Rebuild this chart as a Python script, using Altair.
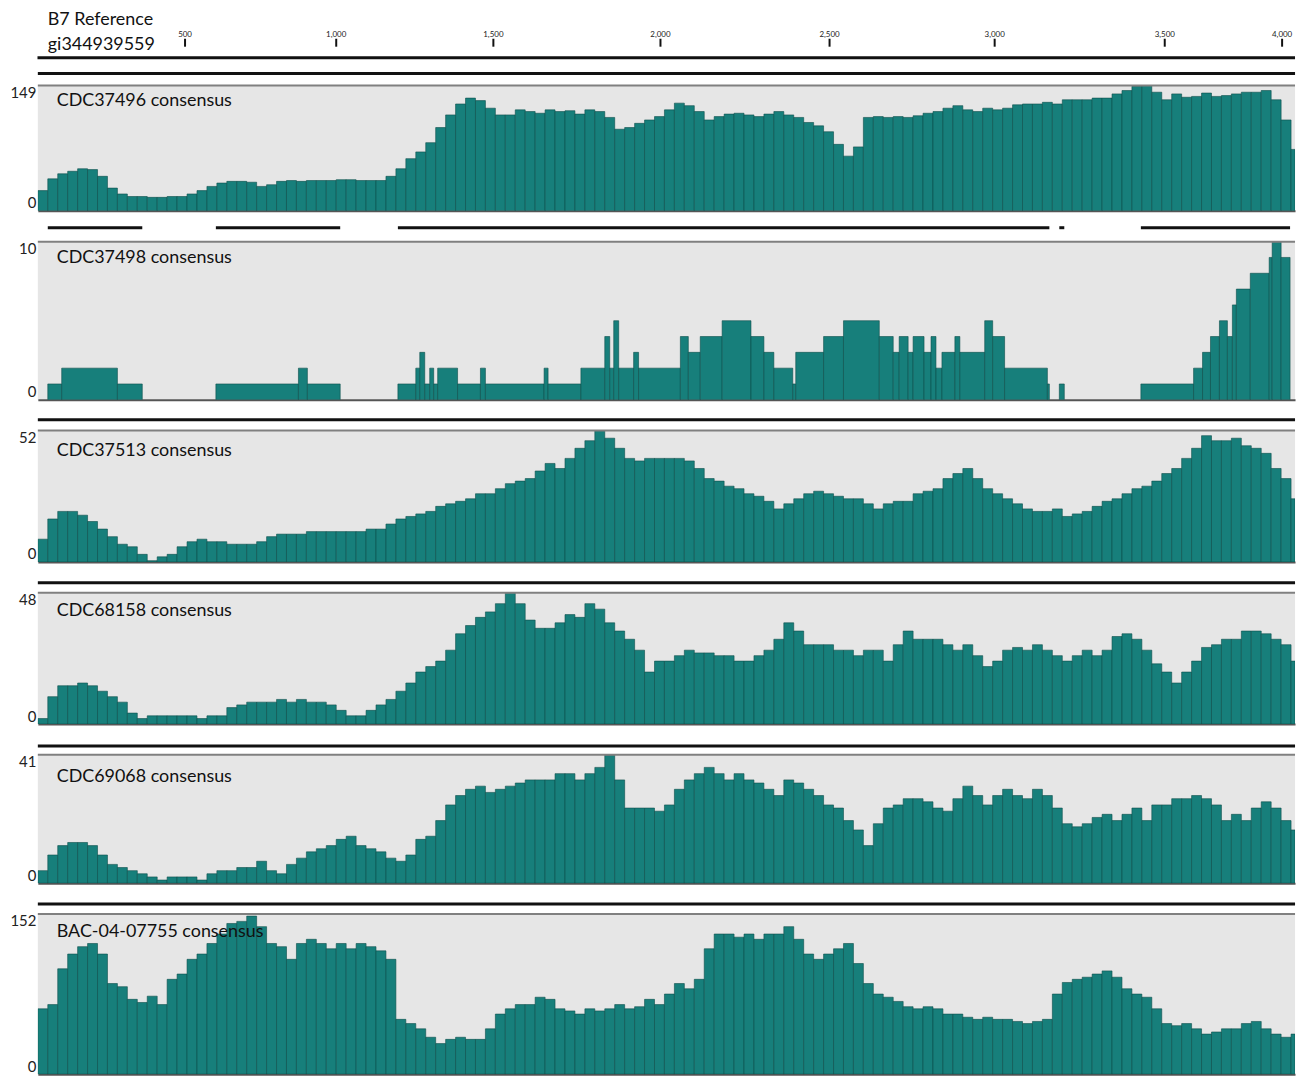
import altair as alt
import pandas as pd

# ---------------- data ----------------
SPAN = 1264          # alignment columns shown
BIN = 10             # columns per coverage bin

RULER_TICKS = [500, 1000, 1500, 2000, 2500, 3000, 3500, 4000]
REF_SPAN = [12, 4055]
REF_LABEL = "B7 Reference\ngi344939559"

NAMES = ["CDC37496 consensus", "CDC37498 consensus", "CDC37513 consensus",
         "CDC68158 consensus", "CDC69068 consensus", "BAC-04-07755 consensus"]
YMAX = [149, 10, 52, 48, 41, 152]

T1 = [24, 38, 44, 47, 50, 49, 41, 27, 20, 17,
      17, 16, 16, 17, 17, 20, 24, 29, 33, 35,
      35, 34, 29, 31, 35, 36, 35, 36, 36, 36,
      37, 37, 36, 36, 36, 41, 50, 62, 70, 81,
      99, 114, 127, 134, 131, 122, 114, 114, 120, 118,
      116, 120, 118, 119, 115, 120, 118, 111, 97, 99,
      104, 108, 112, 120, 128, 125, 118, 108, 112, 115,
      116, 114, 112, 115, 118, 114, 111, 105, 101, 94,
      79, 65, 76, 111, 112, 111, 112, 111, 113, 116,
      118, 122, 125, 120, 118, 122, 120, 122, 126, 127,
      127, 129, 127, 132, 132, 132, 134, 134, 139, 143,
      148, 149, 141, 132, 139, 135, 136, 140, 136, 137,
      139, 141, 141, 143, 132, 108, 73]

# CDC37498: run-length (start column, end column, depth)
T2_START = [10, 24, 80, 179, 262, 271, 362, 380, 384, 389, 394, 398, 402, 422, 445, 450,
            509, 513, 546, 570, 575, 579, 584, 599, 604, 646, 654, 666, 688, 717, 730,
            740, 759, 762, 790, 810, 846, 860, 866, 875, 880, 891, 898, 903, 909, 922,
            927, 952, 960, 972, 1015, 1027, 1109, 1162, 1171, 1179, 1188, 1196, 1201,
            1205, 1219, 1238, 1241, 1250]
T2_END = [24, 80, 105, 262, 271, 304, 380, 384, 389, 394, 398, 402, 422, 445, 450, 509,
          513, 546, 570, 575, 579, 584, 599, 604, 646, 654, 666, 688, 717, 730, 740,
          759, 762, 790, 810, 846, 860, 866, 875, 880, 891, 898, 903, 909, 922, 927,
          952, 960, 972, 1015, 1017, 1032, 1162, 1171, 1179, 1188, 1196, 1201, 1205,
          1219, 1238, 1241, 1250, 1259]
T2_VAL = [1, 2, 1, 1, 2, 1, 1, 2, 3, 1, 2, 1, 2, 1, 2, 1,
          2, 1, 2, 4, 2, 5, 2, 3, 2, 4, 3, 4, 5, 4, 3,
          2, 1, 3, 4, 5, 4, 3, 4, 3, 4, 3, 4, 2, 3, 4,
          3, 5, 4, 2, 1, 1, 1, 2, 3, 4, 5, 4, 6,
          7, 8, 9, 10, 9]

T3 = [9, 17, 20, 20, 18.5, 16, 13, 10, 7, 6,
      3, 0.5, 2, 3, 6, 8, 9, 8, 8, 7,
      7, 7, 8, 10, 11, 11, 11, 12, 12, 12,
      12, 12, 12, 13, 13, 15, 17, 18, 19, 20,
      22, 23, 24, 25, 27, 27, 29, 31, 32, 33,
      36, 39, 37, 41, 45, 48, 52, 49, 45, 41,
      40, 41, 41, 41, 41, 40, 37, 33, 32, 30,
      29, 27, 26, 24, 21, 23, 25, 27, 28, 27,
      26, 25, 25, 23, 21, 23, 24, 24, 27, 28,
      29, 33, 35, 37, 33, 29, 27, 25, 23, 21,
      20, 20, 21, 18, 19, 20, 22, 24, 25, 27,
      29, 30, 32, 35, 37, 41, 45, 50, 48, 48,
      49, 46, 45, 43, 37, 33, 25]

T4 = [2, 10, 14, 14, 15, 14, 12, 10, 8, 4,
      2, 3, 3, 3, 3, 3, 2, 3, 3, 6,
      7, 8, 8, 8, 9, 8, 9, 8, 8, 7,
      5, 3, 3, 5, 7, 9, 12, 15, 19, 21,
      23, 27, 33, 36, 39, 41, 44, 48, 44, 38,
      35, 35, 37, 40, 39, 44, 42, 37, 34, 31,
      27, 19, 23, 23, 25, 27, 26, 26, 25, 25,
      23, 23, 25, 27, 31, 37, 34, 29, 29, 29,
      27, 27, 25, 27, 27, 23, 29, 34, 31, 31,
      31, 29, 27, 29, 25, 21, 23, 27, 28, 27,
      29, 27, 25, 23, 25, 27, 25, 27, 32, 33,
      31, 27, 22, 19, 15, 19, 23, 28, 29, 31,
      31, 34, 34, 33, 31, 29, 23]

T5 = [4, 9, 12, 13, 13, 12, 9, 6, 5, 4,
      3, 2, 1, 2, 2, 2, 1, 3, 4, 4,
      5, 5, 7, 4, 3, 6, 8, 10, 11, 12,
      14, 15, 12, 11, 10, 8, 7, 9, 14, 15,
      20, 25, 28, 30, 31, 29, 30, 31, 32, 33,
      33, 33, 35, 35, 33, 35, 37, 41, 33, 24,
      24, 24, 23, 25, 30, 33, 35, 37, 35, 33,
      35, 33, 32, 30, 28, 33, 32, 30, 28, 25,
      24, 20, 17, 12, 19, 24, 25, 27, 27, 26,
      24, 23, 27, 31, 28, 25, 28, 30, 28, 27,
      30, 28, 24, 19, 18, 19, 21, 22, 20, 22,
      24, 20, 25, 25, 27, 27, 28, 27, 25, 20,
      22, 20, 24, 26, 24, 20, 17]

T6 = [62, 66, 100, 114, 121, 124, 114, 86, 83, 71,
      68, 74, 66, 90, 95, 109, 114, 124, 133, 143,
      145, 150, 140, 124, 121, 109, 124, 128, 124, 119,
      124, 119, 124, 121, 117, 109, 52, 48, 43, 35,
      29, 33, 35, 33, 33, 43, 57, 62, 66, 66,
      73, 71, 62, 60, 57, 62, 60, 62, 66, 62,
      64, 71, 66, 76, 86, 81, 90, 119, 133, 133,
      130, 133, 128, 133, 133, 140, 128, 114, 109, 114,
      119, 124, 105, 86, 76, 73, 69, 64, 62, 64,
      62, 57, 57, 54, 52, 54, 52, 52, 50, 48,
      50, 52, 76, 87, 90, 92, 95, 98, 92, 81,
      76, 73, 62, 48, 46, 48, 43, 38, 40, 43,
      43, 48, 50, 43, 38, 35, 38]

# ---------------- style / layout ----------------
W = 1264
RULER_PX = [148, 300, 458, 626, 796, 962, 1133, 1251]
HEIGHTS = [126, 159, 132, 132, 129, 161]
LINE_OFF = [-12, -14, -11, -10, -9, -10]
TITLE_OFF = [16, 16, 21, 18, 22, 18]
FONT = "Lato"
TEAL = "#177f7b"
EDGE = "#0c4d4a"
BG = "#e6e6e6"


def binned(vals):
    starts = [i * BIN for i in range(len(vals))]
    ends = [min((i + 1) * BIN, SPAN) for i in range(len(vals))]
    return pd.DataFrame({"start": starts, "end": ends, "v": vals})


def coverage_runs(df):
    segs = []
    for s, e, v in zip(df["start"], df["end"], df["v"]):
        if v <= 0:
            continue
        if segs and segs[-1][1] == s:
            segs[-1][1] = e
        else:
            segs.append([s, e])
    return pd.DataFrame(segs, columns=["start", "end"])


XAX = alt.Axis(title=None, labels=False, ticks=False, grid=False, domain=True,
               domainColor="#555555", domainWidth=2)
XSC = alt.Scale(domain=[0, SPAN], nice=False, zero=False)


def track(df, name, ymax, h, line_off, title_off):
    x = alt.X("start:Q", scale=XSC, axis=XAX)
    bars = alt.Chart(df).mark_bar(fill=TEAL, stroke=EDGE, strokeWidth=0.6, clip=True).encode(
        x=x, x2="end:Q",
        y=alt.Y("v:Q", scale=alt.Scale(domain=[0, ymax], nice=False, zero=True),
                axis=alt.Axis(values=[0, ymax], title=None, grid=False, ticks=False,
                              domain=False, labelFlush=True, labelFontSize=15,
                              labelFont=FONT, labelColor="#222222", labelPadding=2)),
        y2=alt.datum(0),
    )
    frame = pd.DataFrame({"start": [0], "end": [SPAN]})
    top = alt.Chart(frame).mark_rule(color="#808080", strokeWidth=2).encode(
        x=x, x2="end:Q", y=alt.value(0))
    cov = alt.Chart(coverage_runs(df)).mark_rule(color="#111111", strokeWidth=3).encode(
        x=x, x2="end:Q", y=alt.value(line_off))
    title = alt.Chart(pd.DataFrame({"name": [name]})).mark_text(
        align="left", baseline="middle", font=FONT, fontSize=18, color="#111111").encode(
        x=alt.value(19), y=alt.value(title_off), text="name:N")
    return alt.layer(bars, top, cov, title).properties(
        width=W, height=h, view=alt.ViewBackground(fill=BG, stroke=None))


# ruler
rx = alt.X("pos:Q", scale=alt.Scale(domain=RULER_TICKS, range=RULER_PX, nice=False, zero=False),
           axis=None)
rdf = pd.DataFrame({"pos": RULER_TICKS})
r_ticks = alt.Chart(rdf).mark_rule(color="#111111", strokeWidth=2).encode(
    x=rx, y=alt.value(30), y2=alt.value(38))
r_labels = alt.Chart(rdf).mark_text(fontSize=8, baseline="bottom", font=FONT, color="#222222").encode(
    x=rx, y=alt.value(30), text=alt.Text("pos:Q", format=","))
r_line = alt.Chart(pd.DataFrame({"pos": [REF_SPAN[0]], "end": [REF_SPAN[1]]})).mark_rule(
    color="#111111", strokeWidth=3).encode(x=rx, x2="end:Q", y=alt.value(49))
r_text = alt.Chart(pd.DataFrame({"t": [REF_LABEL]})).mark_text(
    align="left", baseline="top", font=FONT, fontSize=18, color="#111111",
    lineBreak="\n", lineHeight=25).encode(x=alt.value(10), y=alt.value(2), text="t:N")
ruler = alt.layer(r_line, r_ticks, r_labels, r_text).properties(
    width=W, height=46, view=alt.ViewBackground(fill="white", stroke=None))

panels = [ruler]
panels.append(track(binned(T1), NAMES[0], YMAX[0], HEIGHTS[0], LINE_OFF[0], TITLE_OFF[0]))
panels.append(track(pd.DataFrame({"start": T2_START, "end": T2_END, "v": T2_VAL}),
                    NAMES[1], YMAX[1], HEIGHTS[1], LINE_OFF[1], TITLE_OFF[1]))
for i, vals in zip([2, 3, 4, 5], [T3, T4, T5, T6]):
    panels.append(track(binned(vals), NAMES[i], YMAX[i], HEIGHTS[i], LINE_OFF[i], TITLE_OFF[i]))

chart = alt.vconcat(*panels, spacing=31, bounds="flush").resolve_scale(
    x="independent", y="independent").properties(
    padding={"left": 1, "top": -2, "right": 5, "bottom": 4}, background="white"
).configure_view(stroke=None)

chart.save("out.html", embed_options={"renderer": "svg", "actions": False})
